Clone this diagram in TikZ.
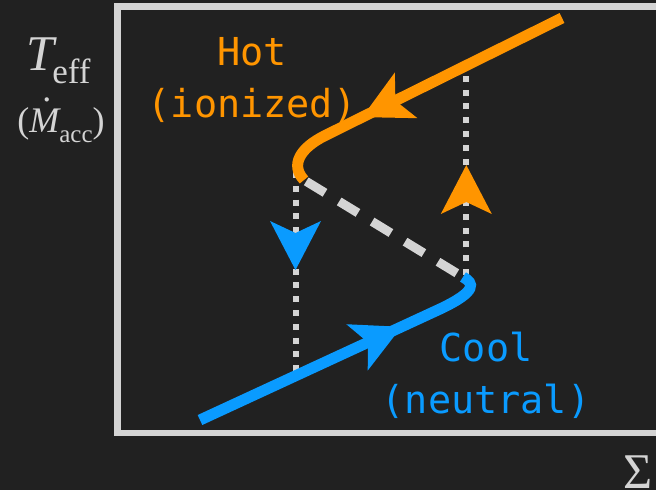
\documentclass[tikz,border=0pt]{standalone}
\usepackage{fontspec}
\setmonofont{DejaVu Sans Mono}
\newfontfamily\axisfont{Liberation Serif}
\usetikzlibrary{arrows.meta,decorations.markings}
\definecolor{bgdark}{HTML}{212121}
\definecolor{framegray}{HTML}{D4D4D4}
\definecolor{hotorange}{RGB}{255,149,0}
\definecolor{coolblue}{RGB}{10,155,255}

\begin{document}
\begin{tikzpicture}[x=1pt,y=-1pt,
        axislabel/.style={text=framegray,inner sep=0pt,anchor=base},
        state/.style={font=\ttfamily\fontsize{38.5}{52}\selectfont,align=center,inner sep=0pt},
        branch/.style={line width=11pt},
        jump/.style={framegray,line width=6pt,dash pattern=on 6pt off 7.8pt},
        unstable/.style={framegray,line width=9pt,dash pattern=on 22pt off 16.6pt,dash phase=36pt},
        flow/.style 2 args={postaction={decorate},decoration={markings,
          mark=at position #1 with {\arrow{Stealth[length=49pt,width=51pt,inset=12pt,line width=0pt,color=#2]}}}}]
        \useasboundingbox[fill=bgdark] (0,0) rectangle (656,490);
        \draw[framegray,line width=6.5pt] (117.5,6.7) rectangle (700,433);
        \coordinate (hotTop) at (562,18);
        \coordinate (hotKnee) at (325,135.6);
        \coordinate (hotEnd) at (304,180);
        \coordinate (coolStart) at (200,420);
        \coordinate (coolKnee) at (440,309);
        \coordinate (coolEnd) at (463,277);
        \coordinate (dropTop) at (295.5,172);
        \coordinate (dropBot) at (295.5,375);
        \coordinate (riseBot) at (466.3,275);
        \coordinate (riseTop) at (466.3,70);
        \draw[jump,flow={98pt}{coolblue}] (dropTop) -- (dropBot);
        \draw[jump,flow={110pt}{hotorange}] (riseBot) -- (riseTop);
        \draw[unstable] (hotEnd) -- (coolEnd);
        \draw[branch,hotorange,flow={223pt}{hotorange}] (hotTop) -- (hotKnee)
          .. controls (300,148) and (290,165) .. (hotEnd);
        \draw[branch,coolblue,flow={222pt}{coolblue}] (coolStart) -- (coolKnee)
          .. controls (478,291) and (474,283) .. (coolEnd);
        \node[state,text=hotorange] (hot) at (252,80) {Hot\\(ionized)};
        \node[state,text=coolblue] (cool) at (486,375) {Cool\\(neutral)};
        \node[axislabel,font=\axisfont\fontsize{50}{50}\selectfont] (teff) at (58.5,70)
          {{\itshape T}\kern-2pt\raisebox{-13pt}{\fontsize{35}{35}\selectfont eff}};
        \node[axislabel,font=\axisfont\fontsize{36}{36}\selectfont] (macc) at (61,132)
          {(\rlap{\hspace{0.36em}\raisebox{0.84em}{.}}{\itshape M}\raisebox{-10pt}{\fontsize{25}{25}\selectfont acc})};
        \node[axislabel,anchor=base west,font=\axisfont\fontsize{50}{50}\selectfont] (sigma) at (623,488) {Σ};
      \end{tikzpicture}
\end{document}
